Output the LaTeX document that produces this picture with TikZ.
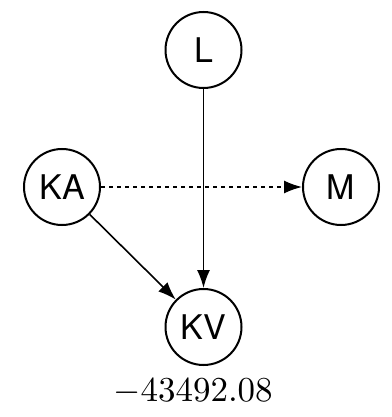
\documentclass[tikz,border=0pt]{standalone}
\usepackage{fontspec}
\newfontfamily\helv{TeX Gyre Heros}
\usetikzlibrary{arrows.meta}
\begin{document}
\begin{tikzpicture}[x=1pt,y=-1pt,
  var/.style={circle,draw,line width=2pt,minimum size=76pt,inner sep=0pt,font=\helv\fontsize{34}{36}\selectfont},
  arr/.style={line width=1.6pt,-{Latex[length=18pt,width=13pt]}},
  darr/.style={arr,dash pattern=on 4pt off 4pt}]
\useasboundingbox (0,0) rectangle (391,417);
\node[var] (L) at (203.5,50) {L};
\node[var] (KA) at (62,187) {KA};
\node[var] (M) at (341,187) {M};
\node[var] (KV) at (203.5,327) {KV};
\draw[arr] (L) -- (KV);
\draw[arr] (KA) -- (KV);
\draw[darr] (KA) -- (M);
\node[scale=3.5] (val) at (193,392) {$-43492.08$};
\end{tikzpicture}
\end{document}
